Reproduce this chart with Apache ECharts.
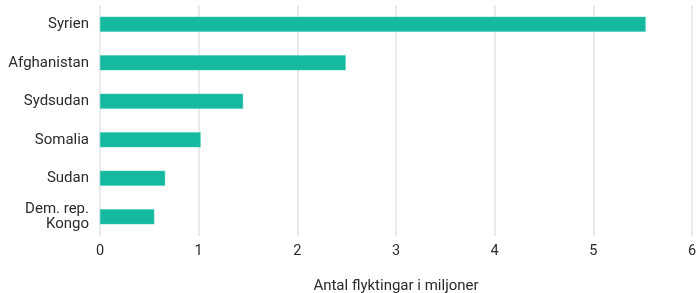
<!DOCTYPE html>
<html>
<head>
<meta charset="utf-8">
<script src="https://cdn.jsdelivr.net/npm/echarts@6/dist/echarts.min.js"></script>
<style>
  html, body { margin: 0; padding: 0; background: #fff; }
  #chart { width: 697px; height: 293px; }
</style>
</head>
<body>
<div id="chart"></div>
<script>
// länder, uppifrån och ned
const countries = ['Syrien', 'Afghanistan', 'Sydsudan', 'Somalia', 'Sudan', 'Dem. rep.\nKongo'];
// antal flyktingar, miljoner
const refugees = [5.53, 2.49, 1.45, 1.02, 0.66, 0.55];
const xTicks = [0, 1, 2, 3, 4, 5, 6];

const chart = echarts.init(document.getElementById('chart'));

const option = {
    backgroundColor: '#ffffff',
    animation: false,
    textStyle: { fontFamily: 'Roboto, sans-serif' },
    grid: { left: 100, right: 5, top: 5, bottom: 57, containLabel: false, outerBoundsMode: 'none' },
    xAxis: {
        type: 'value',
        min: xTicks[0],
        max: xTicks[xTicks.length - 1],
        interval: 1,
        name: 'Antal flyktingar i miljoner',
        nameLocation: 'middle',
        nameGap: 43,
        nameTextStyle: { color: '#2b2b2b', fontSize: 15 },
        axisLine: { show: false },
        axisTick: { show: false },
        axisLabel: { color: '#2b2b2b', fontSize: 14.5, margin: 8 },
        splitLine: { lineStyle: { color: '#eaeaea', width: 2 } }
    },
    yAxis: {
        type: 'category',
        data: countries,
        inverse: true,
        axisLine: { show: false },
        axisTick: { show: false },
        axisLabel: { color: '#2b2b2b', fontSize: 15, margin: 11, lineHeight: 15, align: 'right' }
    },
    series: [{
        type: 'bar',
        data: refugees,
        barWidth: 15,
        itemStyle: { color: '#14b99f', borderColor: '#3cc9b1', borderWidth: 0.5 }
    }]
};

chart.setOption(option);
</script>
</body>
</html>
